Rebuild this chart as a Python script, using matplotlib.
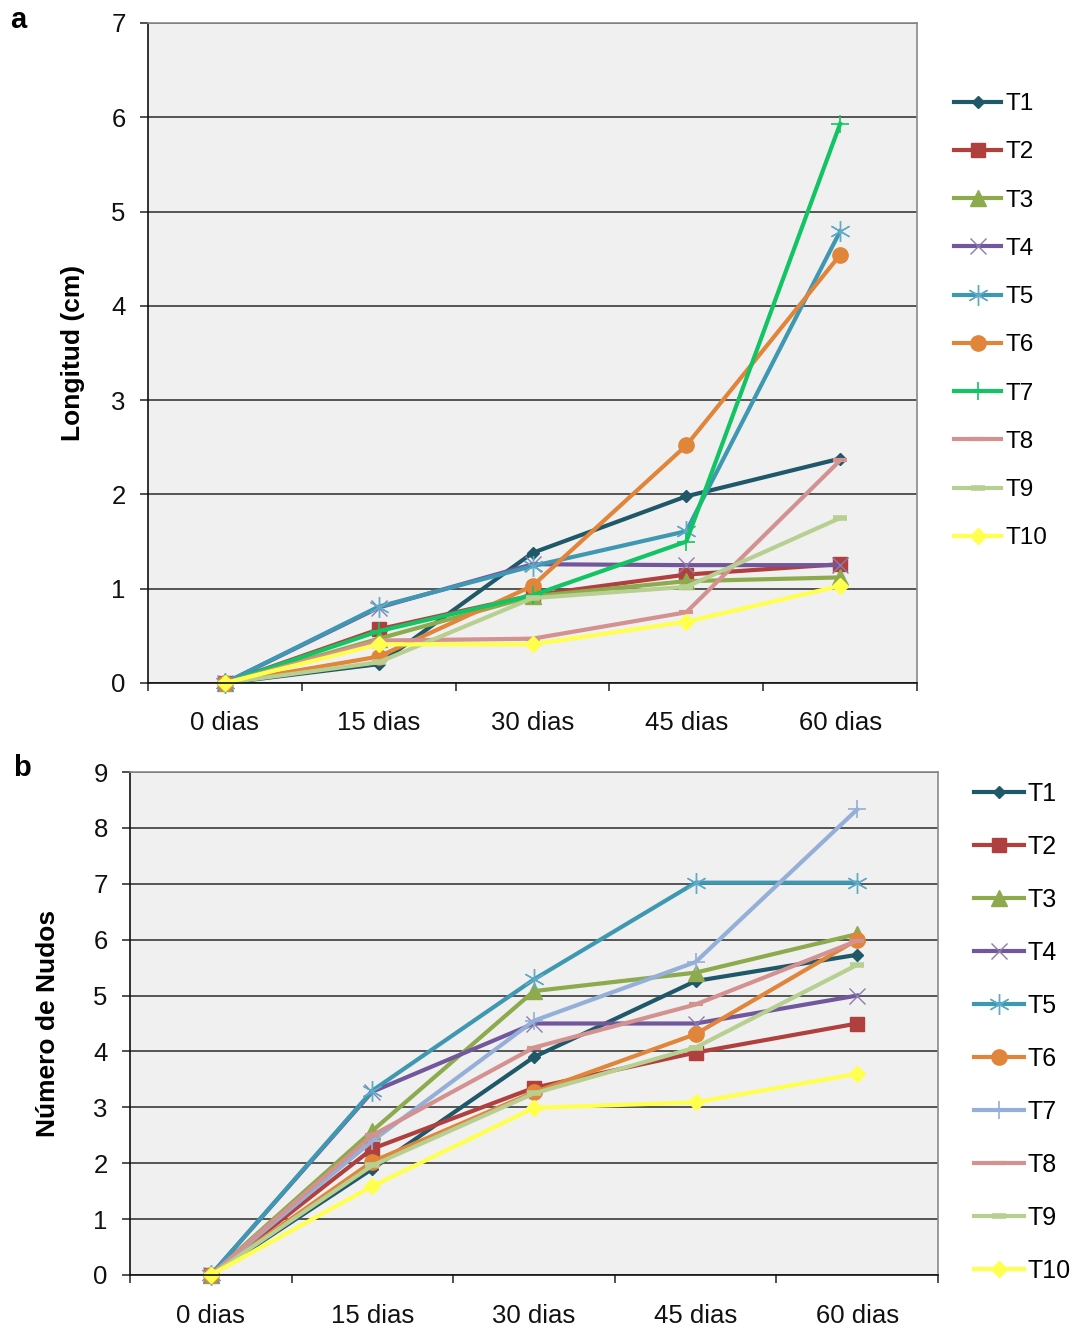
import matplotlib
matplotlib.use("Agg")
import matplotlib.pyplot as plt

plt.rcParams["font.family"] = ["Liberation Sans", "DejaVu Sans"]

# Sampling days
categories = ["0 dias", "15 dias", "30 dias", "45 dias", "60 dias"]
series_names = ["T1", "T2", "T3", "T4", "T5", "T6", "T7", "T8", "T9", "T10"]

# Panel a: shoot length (cm)
long_T1 = [0, 0.20, 1.38, 1.98, 2.38]
long_T2 = [0, 0.57, 0.93, 1.15, 1.26]
long_T3 = [0, 0.47, 0.92, 1.08, 1.12]
long_T4 = [0, 0.80, 1.26, 1.25, 1.25]
long_T5 = [0, 0.81, 1.24, 1.61, 4.79]
long_T6 = [0, 0.28, 1.03, 2.52, 4.54]
long_T7 = [0, 0.55, 0.93, 1.50, 5.93]
long_T8 = [0, 0.45, 0.47, 0.75, 2.36]
long_T9 = [0, 0.22, 0.90, 1.02, 1.75]
long_T10 = [0, 0.41, 0.41, 0.65, 1.03]

# Panel b: number of nodes
nud_T1 = [0, 1.90, 3.90, 5.26, 5.73]
nud_T2 = [0, 2.26, 3.35, 3.98, 4.50]
nud_T3 = [0, 2.58, 5.08, 5.41, 6.10]
nud_T4 = [0, 3.28, 4.50, 4.50, 5.00]
nud_T5 = [0, 3.30, 5.29, 7.02, 7.02]
nud_T6 = [0, 2.03, 3.27, 4.31, 6.00]
nud_T7 = [0, 2.40, 4.55, 5.60, 8.33]
nud_T8 = [0, 2.50, 4.07, 4.84, 5.98]
nud_T9 = [0, 1.96, 3.25, 4.07, 5.55]
nud_T10 = [0, 1.59, 2.99, 3.09, 3.60]

longitud = [long_T1, long_T2, long_T3, long_T4, long_T5,
            long_T6, long_T7, long_T8, long_T9, long_T10]
nudos = [nud_T1, nud_T2, nud_T3, nud_T4, nud_T5,
         nud_T6, nud_T7, nud_T8, nud_T9, nud_T10]

ASTERISK = (6, 2, 0)

# line colour, marker, marker size, marker face, marker edge, marker edge width
styles_a = [
    ("#1F5869", "D", 6, "#1F5869", "#1F5869", 1),
    ("#B0403D", "s", 10, "#B0403D", "#B0403D", 1),
    ("#8DAA4D", "^", 11, "#8DAA4D", "#8DAA4D", 1),
    ("#72579C", "x", 12, "none", "#8C7BB0", 1.0),
    ("#3F98B2", ASTERISK, 15, "none", "#5FAAC6", 1.0),
    ("#E0853A", "o", 11, "#E0853A", "#E0853A", 1),
    ("#12C464", "+", 13, "none", "#12C464", 1.2),
    ("#D39190", "_", 10, "none", "#D39190", 3),
    ("#B7CF90", "_", 10, "none", "#B7CF90", 4),
    ("#FFFF4D", "D", 8, "#FFFF4D", "#FFFF4D", 1),
]
styles_b = list(styles_a)
styles_b[6] = ("#94AFD8", "+", 13, "none", "#94AFD8", 1.2)


def draw_panel(ax, data, styles, ymax, ylabel, ylabel_x, legend_anchor,
               legend_size, legend_spacing, handle_len, xpad):
    x = list(range(len(categories)))
    handles = []
    for name, vals, st in zip(series_names, data, styles):
        col, mk, ms, mfc, mec, mew = st
        ln, = ax.plot(x, vals, color=col, lw=3.0, marker=mk, ms=ms,
                      mfc=mfc, mec=mec, mew=mew, clip_on=False,
                      solid_joinstyle="round", label=name)
        handles.append(ln)

    ax.set_facecolor("#F0F0F0")
    ax.set_xlim(-0.5, len(categories) - 0.5)
    ax.set_ylim(0, ymax)
    ax.set_yticks(range(0, ymax + 1))
    ax.yaxis.grid(True, color="#2A2A2A", lw=1.1)
    ax.set_axisbelow(True)

    ax.set_xticks(x)
    ax.set_xticklabels(categories)
    ax.set_xticks([i - 0.5 for i in range(len(categories) + 1)], minor=True)
    ax.tick_params(axis="x", which="major", length=0, pad=xpad,
                   labelsize=18.5, colors="#111111")
    ax.tick_params(axis="x", which="minor", length=6, width=1.1,
                   direction="out", color="#222222")
    ax.tick_params(axis="y", length=6, width=1.1, direction="out",
                   pad=10, labelsize=18.5, color="#222222",
                   labelcolor="#111111")

    for side in ("left", "bottom"):
        ax.spines[side].set_color("#111111")
        ax.spines[side].set_linewidth(1.2)
    for side in ("top", "right"):
        ax.spines[side].set_color("#8A8A8A")
        ax.spines[side].set_linewidth(1.2)

    ax.set_ylabel(ylabel, fontsize=19, fontweight="bold",
                  va="center", ha="center")
    ax.yaxis.set_label_coords(ylabel_x, 0.5)

    ax.legend(handles=handles, loc="upper left",
              bbox_to_anchor=legend_anchor, bbox_transform=fig.transFigure,
              frameon=False, borderpad=0, borderaxespad=0,
              handlelength=handle_len, handletextpad=0.15,
              labelspacing=legend_spacing, prop={"size": legend_size})


fig = plt.figure(figsize=(10.78, 13.3), dpi=100)
W, H = 1078.0, 1330.0

ax_a = fig.add_axes([148 / W, 1 - 683 / H, 769 / W, 660 / H])
ax_b = fig.add_axes([130 / W, 1 - 1275 / H, 808 / W, 503 / H])

draw_panel(ax_a, longitud, styles_a, 7, "Longitud (cm)", (73 - 148) / 769,
           (954 / W, 1 - 93 / H), 17.5, 1.08, 1.95, 20)
draw_panel(ax_b, nudos, styles_b, 9, "Número de Nudos", (48 - 130) / 808,
           (974 / W, 1 - 782 / H), 18, 1.16, 2.0, 21)

fig.text(18 / W, 1 - 20 / H, "a", fontsize=21, fontweight="bold",
         ha="center", va="center")
fig.text(22 / W, 1 - 768 / H, "b", fontsize=21, fontweight="bold",
         ha="center", va="center")

fig.savefig("out.png", dpi=100, facecolor="white")
